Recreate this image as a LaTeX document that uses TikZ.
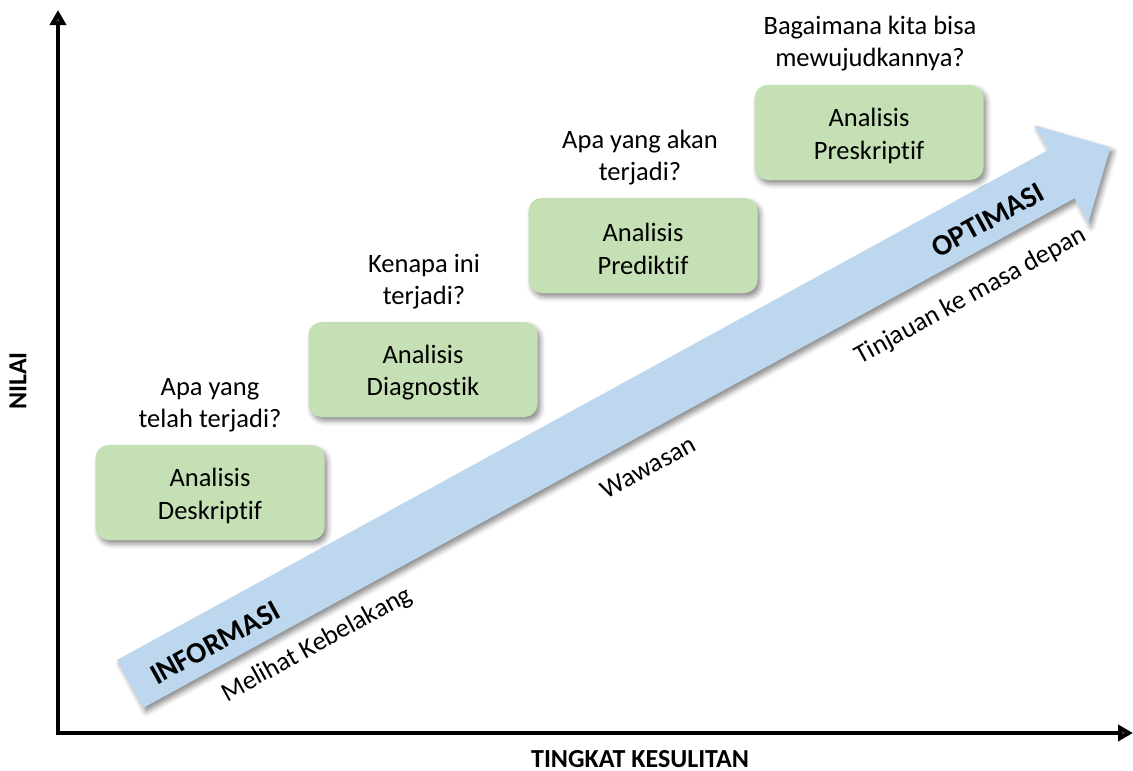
\documentclass[tikz,border=0pt]{standalone}
\usepackage{fontspec}
\setmainfont{Carlito}[Ligatures=NoCommon]
\usetikzlibrary{arrows.meta,shadows.blur}
\definecolor{boxgreen}{HTML}{C5E0B4}
\definecolor{arrowblue}{HTML}{BDD7EE}
\newcommand{\topstrut}{\rule{0pt}{25pt}}
\tikzset{
  axisline/.style={line width=4.5pt,-{Triangle[length=15pt,width=16pt]}},
  softshadow/.style={blur shadow={shadow xshift=3pt,shadow yshift=-4pt,shadow blur radius=5pt,shadow opacity=45}},
  stagebox/.style={draw=none,fill=boxgreen,rounded corners=13pt,minimum width=229pt,minimum height=95pt,
    align=center,inner sep=0pt,font=\fontsize{26.5}{32.5}\selectfont,softshadow},
  question/.style={align=center,font=\fontsize{26.5}{32.5}\selectfont},
  alongtext/.style={rotate=28.7,font=\fontsize{26.5}{32.5}\selectfont},
  alongbold/.style={rotate=28.7,font=\fontsize{29.5}{35}\selectfont\bfseries},
  axislabel/.style={inner sep=0pt,font=\fontsize{26}{30}\selectfont\bfseries}
}
\begin{document}
\begin{tikzpicture}[x=1pt,y=-1pt]
\useasboundingbox (0,0) rectangle (1133,771);

% big progression arrow
\fill[arrowblue,softshadow] (117,660) -- (1048.2,150.1) -- (1034.7,125.4) -- (1110.5,147.4)
  -- (1088.1,223) -- (1074.6,198.3) -- (143,708) -- cycle;

% axes
\coordinate (origin) at (58,733);
\coordinate (ytop) at (58,10);
\coordinate (xend) at (1133,733);
\draw[axisline] ([yshift=2.25pt]origin) -- (ytop);
\draw[axisline] ([xshift=-2.25pt]origin) -- (xend);

\node[axislabel,rotate=90] (nilai) at (18,381) {NILAI};
\node[axislabel] (tingkat) at (640,759) {TINGKAT KESULITAN};

% stages
\node[stagebox] (desk) at (210,492.5) {\topstrut Analisis\\Deskriptif};
\node[stagebox] (diag) at (423,369.5) {\topstrut Analisis\\Diagnostik};
\node[stagebox] (pred) at (643,245.5) {\topstrut Analisis\\Prediktif};
\node[stagebox] (pres) at (869,132.5) {\topstrut Analisis\\Preskriptif};

% questions
\node[question,anchor=south] (q1) at (210,436) {Apa yang\\telah terjadi?};
\node[question,anchor=south] (q2) at (424,313) {Kenapa ini\\terjadi?};
\node[question,anchor=south] (q3) at (640,189) {Apa yang akan\\terjadi?};
\node[question,anchor=south] (q4) at (870,75) {Bagaimana kita bisa\\mewujudkannya?};

% labels along the arrow
\node[alongbold] (info) at (215,643) {INFORMASI};
\node[alongtext] (melihat) at (317,645) {Melihat Kebelakang};
\node[alongtext] (wawasan) at (648,467) {Wawasan};
\node[alongtext] (tinjauan) at (971,296) {Tinjauan ke masa depan};
\node[alongbold] (opt) at (988,220) {OPTIMASI};
\end{tikzpicture}
\end{document}
